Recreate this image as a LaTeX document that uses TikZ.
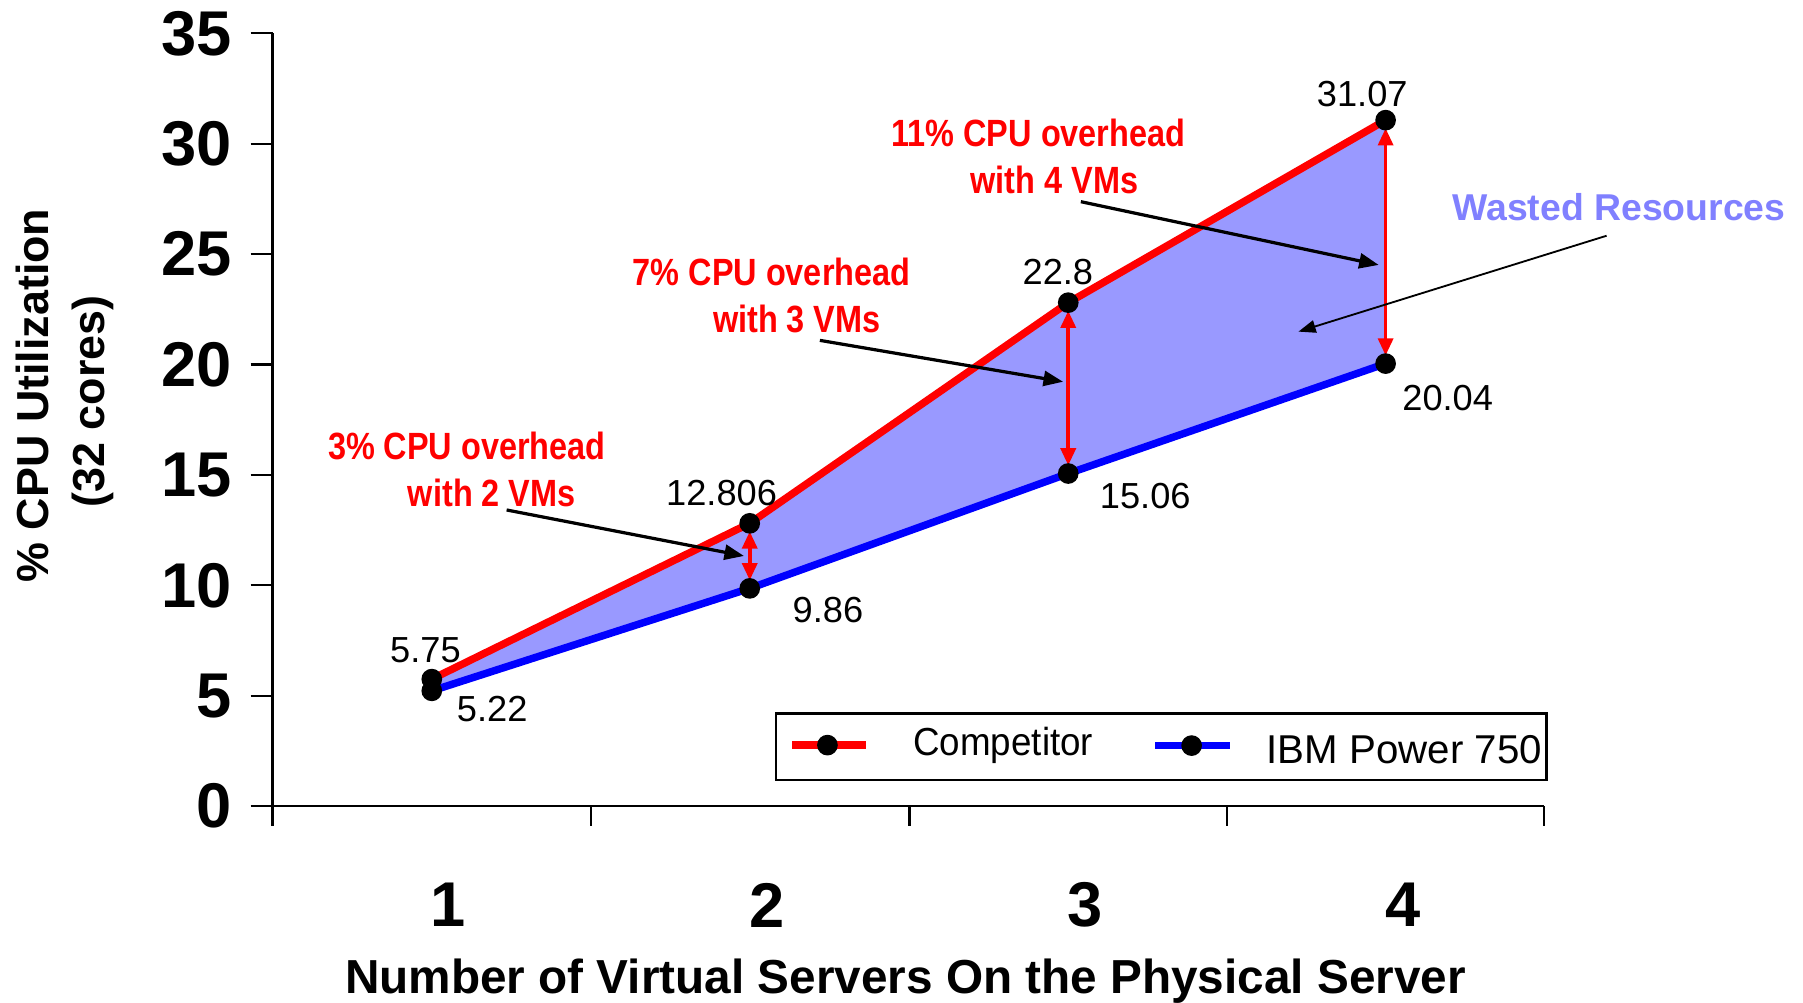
\documentclass[tikz,border=0pt]{standalone}
\usepackage{fontspec}
\setmainfont{Liberation Sans}
\usetikzlibrary{arrows.meta}
\definecolor{fillc}{RGB}{153,153,255}
\definecolor{wastec}{RGB}{128,128,255}
\tikzset{
  axisline/.style={line width=2pt, black},
  ticklab/.style={font=\fontsize{55}{60}\selectfont\bfseries, inner sep=0pt},
  axtitle/.style={font=\fontsize{39}{44}\selectfont\bfseries, inner sep=0pt},
  val/.style={font=\fontsize{31.5}{36}\selectfont, inner sep=0pt, anchor=base},
  note/.style={font=\fontsize{33}{38}\selectfont\bfseries, text=red, inner sep=0pt, anchor=base, xscale=0.855},
  dot/.style={circle, fill=black, inner sep=0pt, minimum size=18pt},
  serie/.style={line width=6.5pt},
  gap/.style={red, line width=3.2pt, shorten <=-2pt, shorten >=-2pt, {Triangle[length=15pt,width=13pt]}-{Triangle[length=15pt,width=13pt]}},
  pointer/.style={black, line width=2.8pt, -{Triangle[length=17pt,width=13pt]}},
  legtext/.style={font=\fontsize{34}{40}\selectfont, inner sep=0pt, anchor=base}
}
\begin{document}
\begin{tikzpicture}[x=1pt,y=-1pt]
\useasboundingbox (0,0) rectangle (1568,872);

% data coordinates
\coordinate (r1) at (375.5,590.6);
\coordinate (r2) at (652,455.1);
\coordinate (r3) at (929,263.2);
\coordinate (r4) at (1205,104.5);
\coordinate (b1) at (375.5,600.8);
\coordinate (b2) at (652,511.7);
\coordinate (b3) at (929,411.8);
\coordinate (b4) at (1205,316.2);

% axes
\draw[axisline] (237,29) -- (237,718.5);
\draw[axisline] (237,701) -- (1343,701);
\foreach \v in {0,5,...,35} {
  \draw[axisline] (218,{701-19.2*\v}) -- (237,{701-19.2*\v});
  \node[ticklab, anchor=east] (yt\v) at (202,{701-19.2*\v}) {\v};
}
\foreach \xx in {514,791,1067,1343} \draw[axisline] (\xx,701) -- (\xx,718.5);

\node[ticklab] (xt1) at (390,787) {1};
\node[ticklab] (xt2) at (667,787) {2};
\node[ticklab] (xt3) at (944,787) {3};
\node[ticklab] (xt4) at (1220,787) {4};

\node[axtitle, rotate=90] (ytitleA) at (28.5,344) {\% CPU Utilization};
\node[axtitle, rotate=90] (ytitleB) at (81,349) {(32 cores)};
\node[axtitle, font=\fontsize{41.5}{46}\selectfont\bfseries, anchor=base] (xtitle) at (787.5,864) {Number of Virtual Servers On the Physical Server};

% wasted area
\fill[fillc] (r1) -- (r2) -- (r3) -- (r4) -- (b4) -- (b3) -- (b2) -- (b1) -- cycle;
\draw[serie, blue] (b1) -- (b2) -- (b3) -- (b4);
\draw[serie, red] (r1) -- (r2) -- (r3) -- (r4);

% overhead arrows (drawn under the dots)
\path (r2) ++(0,9) coordinate (g2s) (b2) ++(0,-9) coordinate (g2e);
\path (r3) ++(0,9) coordinate (g3s) (b3) ++(0,-9) coordinate (g3e);
\path (r4) ++(0,9) coordinate (g4s) (b4) ++(0,-9) coordinate (g4e);
\draw[gap] (g2s) -- (g2e);
\draw[gap] (g3s) -- (g3e);
\draw[gap] (g4s) -- (g4e);

% dots
\node[dot] (R1) at (r1) {};
\node[dot] (R2) at (r2) {};
\node[dot] (R3) at (r3) {};
\node[dot] (R4) at (r4) {};
\node[dot] (B1) at (b1) {};
\node[dot] (B2) at (b2) {};
\node[dot] (B3) at (b3) {};
\node[dot] (B4) at (b4) {};

% values
\node[val] (v1r) at (370,576) {5.75};
\node[val] (v1b) at (428,627.5) {5.22};
\node[val] (v2r) at (627.5,439.8) {12.806};
\node[val] (v2b) at (720,541.6) {9.86};
\node[val] (v3r) at (920,247.8) {22.8};
\node[val] (v3b) at (996,441.8) {15.06};
\node[val] (v4r) at (1184.7,92.8) {31.07};
\node[val] (v4b) at (1259,357) {20.04};

% notes
\node[note] (n2a) at (406,400) {3\% CPU overhead};
\node[note] (n2b) at (427.7,440.6) {with 2 VMs};
\node[note] (n3a) at (671,248) {7\% CPU overhead};
\node[note] (n3b) at (693,289) {with 3 VMs};
\node[note] (n4a) at (903,127) {11\% CPU overhead};
\node[note] (n4b) at (917,168) {with 4 VMs};
\node[font=\fontsize{32.5}{38}\selectfont\bfseries, text=wastec, inner sep=0pt, anchor=base] (waste) at (1408,192) {Wasted Resources};

% pointers
\coordinate (p2s) at (440.6,443.5);
\coordinate (p2e) at (647,483.5);
\coordinate (p3s) at (713,296);
\coordinate (p3e) at (924.5,332);
\coordinate (p4s) at (940,175.4);
\coordinate (p4e) at (1199,230.4);
\coordinate (pws) at (1397.2,205);
\coordinate (pwe) at (1129.2,288.4);
\draw[pointer] (p2s) -- (p2e);
\draw[pointer] (p3s) -- (p3e);
\draw[pointer] (p4s) -- (p4e);
\draw[black, line width=1.6pt, -{Triangle[length=15pt,width=11pt]}] (pws) -- (pwe);

% legend
\node[draw, line width=2pt, inner sep=0pt, minimum width=670pt, minimum height=58pt, anchor=north west] (legend) at (674,619.5) {};
\coordinate (lr1) at (689,648);
\coordinate (lr2) at (753.5,648);
\coordinate (lb1) at (1004.8,648.4);
\coordinate (lb2) at (1069.4,648.4);
\draw[serie, red] (lr1) -- (lr2);
\draw[serie, blue] (lb1) -- (lb2);
\node[dot] (lrd) at (719.6,648) {};
\node[dot] (lbd) at (1036.3,648.4) {};
\node[legtext, xscale=0.94] (legc) at (872.5,657.4) {Competitor};
\node[legtext, font=\fontsize{35}{40}\selectfont] (legi) at (1221.3,664.4) {IBM Power 750};
\end{tikzpicture}
\end{document}
